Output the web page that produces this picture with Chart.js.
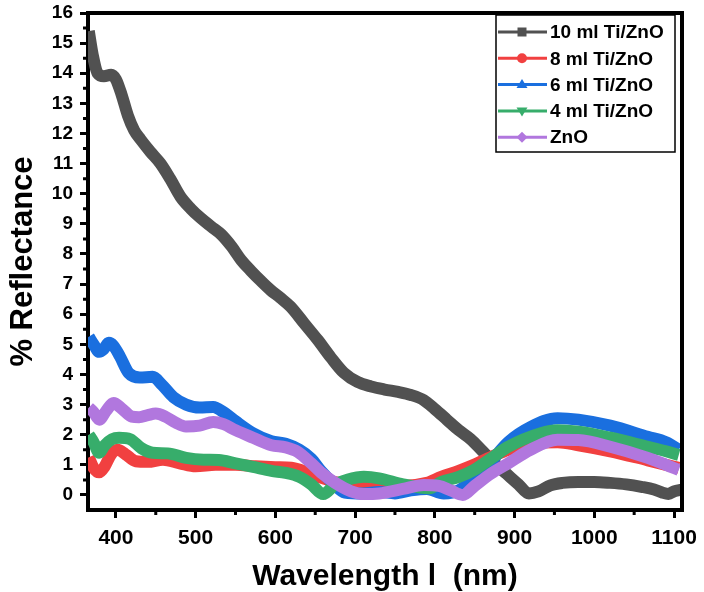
<!DOCTYPE html>
<html>
<head>
<meta charset="utf-8">
<title>Reflectance</title>
<script src="https://cdn.jsdelivr.net/npm/chart.js@4.4.0/dist/chart.umd.min.js"></script>
<style>
  body { margin: 0; background: #fff; }
  canvas { display: block; }
</style>
</head>
<body>
<canvas id="reflChart" width="704" height="592"></canvas>
<script>
// wavelength (nm) / % reflectance
const wl10 = [366, 371, 377, 385, 394, 400, 407, 415, 423, 431, 443, 456, 468, 481, 494, 506, 520, 532, 545, 557, 569, 582, 594, 606, 619, 636, 653, 670, 686, 703, 720, 737, 754, 770, 786, 800, 815, 830, 845, 860, 875, 890, 905, 918, 930, 945, 960, 980, 1000, 1020, 1040, 1059, 1075, 1085, 1093, 1100, 1110];
const r10 = [15.4, 14.6, 14.0, 13.9, 13.95, 13.8, 13.3, 12.6, 12.1, 11.8, 11.4, 11.0, 10.5, 9.9, 9.5, 9.2, 8.9, 8.65, 8.25, 7.8, 7.45, 7.1, 6.8, 6.55, 6.25, 5.7, 5.15, 4.55, 4.05, 3.75, 3.6, 3.5, 3.42, 3.32, 3.15, 2.85, 2.5, 2.15, 1.85, 1.45, 1.05, 0.7, 0.35, 0.05, 0.12, 0.32, 0.4, 0.43, 0.43, 0.4, 0.35, 0.27, 0.18, 0.08, 0.03, 0.12, 0.18];

const wl8 = [366, 372, 379, 386, 394, 402, 412, 425, 440, 459, 480, 500, 525, 550, 575, 600, 620, 640, 660, 680, 703, 730, 760, 790, 808, 830, 849, 870, 892, 920, 954, 980, 1020, 1067, 1090, 1106];
const r8 = [1.25, 0.9, 0.75, 0.95, 1.35, 1.5, 1.35, 1.12, 1.1, 1.17, 1.05, 0.95, 1.0, 1.0, 0.95, 0.92, 0.9, 0.75, 0.55, 0.4, 0.35, 0.3, 0.3, 0.4, 0.6, 0.8, 1.0, 1.25, 1.5, 1.7, 1.75, 1.65, 1.45, 1.15, 1.0, 0.9];

const wl6 = [366, 372, 379, 385, 391, 397, 405, 416, 430, 446, 458, 472, 488, 505, 522, 535, 550, 572, 595, 613, 630, 645, 657, 672, 687, 710, 730, 750, 770, 790, 811, 830, 849, 870, 892, 920, 954, 980, 1020, 1067, 1090, 1106];
const r6 = [5.25, 5.0, 4.75, 4.85, 5.05, 4.95, 4.6, 4.05, 3.9, 3.92, 3.65, 3.25, 3.0, 2.9, 2.92, 2.75, 2.45, 2.05, 1.78, 1.7, 1.5, 1.2, 0.8, 0.4, 0.08, 0.05, 0.1, 0.05, 0.15, 0.2, 0.05, 0.15, 0.55, 1.1, 1.75, 2.25, 2.55, 2.5, 2.3, 1.93, 1.75, 1.5];

const wl4 = [366, 372, 379, 386, 395, 404, 418, 432, 446, 465, 488, 510, 529, 550, 572, 595, 613, 630, 645, 660, 675, 690, 711, 730, 760, 793, 808, 830, 849, 870, 892, 933, 954, 980, 1020, 1067, 1090, 1106];
const r4 = [2.0, 1.75, 1.4, 1.65, 1.85, 1.9, 1.85, 1.55, 1.4, 1.38, 1.23, 1.17, 1.16, 1.05, 0.93, 0.8, 0.73, 0.6, 0.35, 0.03, 0.35, 0.5, 0.6, 0.55, 0.35, 0.22, 0.43, 0.6, 0.83, 1.2, 1.6, 2.05, 2.15, 2.1, 1.9, 1.6, 1.45, 1.33];

const wlZnO = [366, 372, 379, 388, 397, 408, 420, 429, 440, 450, 462, 475, 488, 505, 522, 535, 550, 572, 595, 613, 628, 645, 657, 675, 695, 711, 730, 760, 786, 805, 820, 835, 850, 870, 892, 920, 954, 980, 1020, 1067, 1090, 1106];
const rZnO = [2.9, 2.75, 2.5, 2.8, 3.05, 2.85, 2.6, 2.58, 2.65, 2.7, 2.6, 2.4, 2.27, 2.3, 2.42, 2.35, 2.15, 1.9, 1.65, 1.58, 1.43, 1.05, 0.75, 0.4, 0.12, 0.03, 0.05, 0.2, 0.33, 0.3, 0.15, 0.0, 0.3, 0.7, 1.05, 1.5, 1.83, 1.82, 1.6, 1.23, 1.0, 0.83];

const seriesNames = ["10 ml Ti/ZnO", "8 ml Ti/ZnO", "6 ml Ti/ZnO", "4 ml Ti/ZnO", "ZnO"];
const seriesColors = ["#515151", "#F14040", "#1A6FDF", "#37AD6B", "#B177DE"];
const markers = ["square", "circle", "triangle", "triangleDown", "diamond"];

const xTicks = [400, 500, 600, 700, 800, 900, 1000, 1100];
const xMinor = [450, 550, 650, 750, 850, 950, 1050];
const yTicks = [0, 1, 2, 3, 4, 5, 6, 7, 8, 9, 10, 11, 12, 13, 14, 15, 16];
const yMinor = [0.5, 1.5, 2.5, 3.5, 4.5, 5.5, 6.5, 7.5, 8.5, 9.5, 10.5, 11.5, 12.5, 13.5, 14.5, 15.5];

const FONT = '"Liberation Sans", Arial, sans-serif';

function pts(xs, ys) {
  return xs.map((x, i) => ({ x: x, y: ys[i] }));
}

const allData = [pts(wl10, r10), pts(wl8, r8), pts(wl6, r6), pts(wl4, r4), pts(wlZnO, rZnO)];

function drawMarker(ctx, type, x, y, r) {
  ctx.beginPath();
  if (type === "square") {
    ctx.rect(x - r, y - r, 2 * r, 2 * r);
  } else if (type === "circle") {
    ctx.arc(x, y, r + 0.5, 0, Math.PI * 2);
  } else if (type === "triangle") {
    ctx.moveTo(x, y - r - 1); ctx.lineTo(x + r + 1, y + r - 1); ctx.lineTo(x - r - 1, y + r - 1);
  } else if (type === "triangleDown") {
    ctx.moveTo(x, y + r + 1); ctx.lineTo(x + r + 1, y - r + 1); ctx.lineTo(x - r - 1, y - r + 1);
  } else {
    ctx.moveTo(x, y - r - 1); ctx.lineTo(x + r + 1, y); ctx.lineTo(x, y + r + 1); ctx.lineTo(x - r - 1, y);
  }
  ctx.closePath();
  ctx.fill();
}

// legend box with line + marker samples
const legendBox = {
  id: "legendBox",
  afterDatasetsDraw(chart) {
    const { ctx, chartArea } = chart;
    const x0 = chartArea.right - 186, y0 = chartArea.top + 2, w = 179, h = 137;
    ctx.save();
    ctx.fillStyle = "#fff";
    ctx.fillRect(x0, y0, w, h);
    ctx.lineWidth = 1.5;
    ctx.strokeStyle = "#000";
    ctx.strokeRect(x0, y0, w, h);
    ctx.font = "bold 19px " + FONT;
    ctx.textBaseline = "middle";
    seriesNames.forEach((name, i) => {
      const y = y0 + 17 + i * 26.3;
      ctx.strokeStyle = seriesColors[i];
      ctx.fillStyle = seriesColors[i];
      ctx.lineWidth = 3;
      ctx.beginPath();
      ctx.moveTo(x0 + 2, y);
      ctx.lineTo(x0 + 51, y);
      ctx.stroke();
      drawMarker(ctx, markers[i], x0 + 26, y, 4.5);
      ctx.fillStyle = "#000";
      ctx.fillText(name, x0 + 54, y + 1);
    });
    ctx.restore();
  }
};

// minor ticks and the top/right frame
const axisExtras = {
  id: "axisExtras",
  afterDraw(chart) {
    const { ctx, chartArea, scales } = chart;
    ctx.save();
    ctx.strokeStyle = "#000";
    ctx.lineWidth = 3;
    ctx.beginPath();
    xMinor.forEach(v => {
      const px = scales.x.getPixelForValue(v);
      ctx.moveTo(px, chartArea.bottom);
      ctx.lineTo(px, chartArea.bottom + 5);
    });
    yMinor.forEach(v => {
      const py = scales.y.getPixelForValue(v);
      ctx.moveTo(chartArea.left, py);
      ctx.lineTo(chartArea.left - 5, py);
    });
    ctx.stroke();
    ctx.lineWidth = 4;
    ctx.beginPath();
    ctx.moveTo(chartArea.left, chartArea.top);
    ctx.lineTo(chartArea.right, chartArea.top);
    ctx.lineTo(chartArea.right, chartArea.bottom + 2);
    ctx.stroke();
    ctx.restore();
  }
};

const ctx = document.getElementById("reflChart").getContext("2d");

const datasets = seriesNames.map((name, i) => ({
  label: name,
  data: allData[i],
  borderColor: seriesColors[i],
  backgroundColor: seriesColors[i],
  borderWidth: 12,
  borderJoinStyle: "round",
  pointRadius: 0,
  cubicInterpolationMode: "monotone",
  order: seriesNames.length - i,
  clip: 0
}));

const chart = new Chart(ctx, {
  type: "line",
  data: { datasets: datasets },
  options: {
    responsive: false,
    animation: false,
    layout: { padding: { top: 13, right: 22, left: 0, bottom: 0 } },
    plugins: {
      legend: { display: false },
      tooltip: { enabled: false }
    },
    scales: {
      x: {
        type: "linear",
        min: 365,
        max: 1110,
        afterBuildTicks: s => { s.ticks = xTicks.map(v => ({ value: v })); },
        afterFit: s => { s.height = 82; s.paddingLeft = 0; s.paddingRight = 0; },
        grid: { drawOnChartArea: false, drawTicks: true, tickLength: 8, tickWidth: 3, tickColor: "#000" },
        border: { display: true, color: "#000", width: 4 },
        ticks: {
          color: "#000",
          font: { family: FONT, size: 21, weight: "bold" },
          padding: 8,
          maxRotation: 0,
          autoSkip: false,
          callback: v => String(v)
        },
        title: {
          display: true,
          text: "Wavelength l  (nm)",
          color: "#000",
          font: { family: FONT, size: 30, weight: "bold", lineHeight: 1 },
          padding: { top: 0, bottom: 0 }
        }
      },
      y: {
        min: -0.5,
        max: 16,
        afterBuildTicks: s => { s.ticks = yTicks.map(v => ({ value: v })); },
        afterFit: s => { s.width = 88; s.paddingTop = 0; s.paddingBottom = 0; },
        grid: { drawOnChartArea: false, drawTicks: true, tickLength: 8, tickWidth: 3, tickColor: "#000" },
        border: { display: true, color: "#000", width: 4 },
        ticks: {
          color: "#000",
          font: { family: FONT, size: 19, weight: "bold" },
          padding: 7,
          autoSkip: false,
          callback: v => String(v)
        },
        title: {
          display: true,
          text: "% Reflectance",
          color: "#000",
          font: { family: FONT, size: 31, weight: "bold", lineHeight: 1 },
          padding: { top: 8, bottom: 0 }
        }
      }
    }
  },
  plugins: [legendBox, axisExtras]
});
</script>
</body>
</html>
